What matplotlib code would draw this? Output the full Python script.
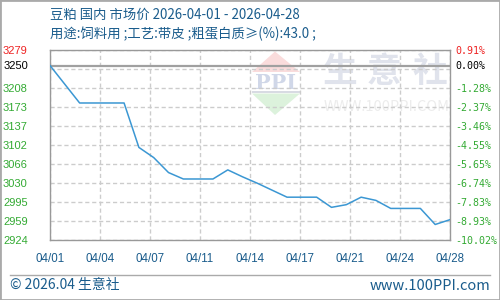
#import libraries
import numpy as np
import matplotlib.pyplot as plt
from matplotlib.patches import Polygon, Rectangle

plt.rcParams['font.family'] = ['Noto Sans CJK SC', 'DejaVu Sans']

#data (daily price, CNY/t)
dates = ['04/01', '04/02', '04/03', '04/04', '04/05', '04/06', '04/07',
         '04/08', '04/09', '04/10', '04/11', '04/12', '04/13', '04/14',
         '04/15', '04/16', '04/17', '04/18', '04/19', '04/20', '04/21',
         '04/22', '04/23', '04/24', '04/25', '04/26', '04/27', '04/28']
prices = [3250, 3215, 3180, 3180, 3180, 3180, 3097,
          3078, 3050, 3038, 3038, 3038, 3055, 3042,
          3030, 3017, 3004, 3004, 3004, 2985, 2990,
          3004, 2998, 2983, 2983, 2983, 2953, 2962]
base_price = 3250

x_labels = ['04/01', '04/04', '04/07', '04/11', '04/14', '04/17', '04/21', '04/24', '04/28']
y_min, y_max = 2924, 3279
left_labels = ['3279', '', '3208', '3173', '3137', '3102', '3066', '3030', '2995', '2959', '2924']
right_labels = ['0.91%', '', '-1.28%', '-2.37%', '-3.46%', '-4.55%', '-5.65%',
                '-6.74%', '-7.83%', '-8.93%', '-10.02%']

title1 = '豆粕 国内 市场价 2026-04-01 - 2026-04-28'
title2 = '用途:饲料用 ;工艺:带皮 ;粗蛋白质≥(%):43.0 ;'

blue_txt = '#1a5c8c'
red = '#ee2222'
green = '#33aa33'
gray = '#999999'

fig = plt.figure(figsize=(5, 3), dpi=100)
ax = fig.add_axes([0.1, 0.2, 0.8, 190 / 300])
ax.patch.set_alpha(0)

#watermark (axes fraction coords)
def fx(px):
    return (px - 50) / 400
def fy(py):
    return (240 - py) / 190

ax.add_patch(Polygon([(fx(275), fy(51.5)), (fx(252), fy(72)), (fx(300), fy(72))],
                     closed=True, transform=ax.transAxes, color='#fadcdc', lw=0, zorder=0))
ax.add_patch(Polygon([(fx(252), fy(93.5)), (fx(300), fy(93.5)), (fx(275), fy(115))],
                     closed=True, transform=ax.transAxes, color='#dcf2dc', lw=0, zorder=0))
ax.add_patch(Rectangle((fx(252), fy(92.5)), 48 / 400, 1.5 / 190, transform=ax.transAxes,
                       color='#d8dbe3', lw=0, zorder=0))
ax.text(fx(276), fy(83), 'PPI', transform=ax.transAxes, ha='center', va='center',
        fontsize=15, fontweight='bold', family='DejaVu Serif', color='#d0d7e8', zorder=0)
for ch, cx in zip('生意社', [340, 384, 430]):
    ax.text(fx(cx), fy(71.5), ch, transform=ax.transAxes, ha='center', va='center',
            fontsize=25, fontweight='bold', color='#e0e3ec', zorder=0)
ax.text(fx(386.5), fy(106.5), 'WWW.100PPI.COM', transform=ax.transAxes, ha='center',
        va='center', fontsize=10.5, color='#ececec', zorder=0)

#grid
days = np.arange(len(dates))
grid_vals = np.linspace(y_min, y_max, 11)[::-1]
x_ticks = np.linspace(0, len(dates) - 1, len(x_labels))
ax.set_xlim(0, len(dates) - 1)
ax.set_ylim(y_min, y_max)
ax.set_xticks(x_ticks)
ax.set_xticklabels(x_labels, fontsize=8.3, color=blue_txt, family='Liberation Sans')
ax.set_yticks(grid_vals)
ax.set_yticklabels(left_labels, fontsize=8, family='Liberation Sans')
ax.tick_params(axis='x', length=0, pad=9)
ax.tick_params(axis='y', length=0, pad=16)
for i, lab in enumerate(ax.get_yticklabels()):
    lab.set_color(red if i == 0 else green)
ax.grid(True, color='#cccccc', linestyle=(0, (3, 2)), linewidth=1)
for s in ax.spines.values():
    s.set_color(gray)
    s.set_linewidth(1)

#base line and price line
ax.axhline(base_price, color='#a0a0a0', linewidth=1.6, zorder=2)
ax.plot(days, prices, color='#3b97d3', linewidth=1.1, zorder=3)
ax.text(-22 / 400, base_price, str(base_price), transform=ax.get_yaxis_transform(),
        ha='right', va='center', fontsize=8, family='Liberation Sans', color='black')

#right axis in percent
ax2 = ax.twinx()
ax2.set_ylim(y_min, y_max)
ax2.set_yticks(grid_vals)
ax2.set_yticklabels(right_labels, fontsize=7.2, family='DejaVu Sans Mono')
ax2.tick_params(axis='y', length=0, pad=4)
for i, lab in enumerate(ax2.get_yticklabels()):
    lab.set_color(red if i == 0 else green)
for s in ax2.spines.values():
    s.set_visible(False)
ax2.text(1 + 5.5 / 400, base_price, '0.00%', transform=ax2.get_yaxis_transform(),
         ha='left', va='center', fontsize=7.2, family='DejaVu Sans Mono', color='black')

#titles and footer
fig.text(50 / 500, 1 - 15 / 300, title1, fontsize=9.6, color=blue_txt, va='center')
fig.text(50 / 500, 1 - 33.5 / 300, title2, fontsize=9.6, color=blue_txt, va='center')
fig.add_artist(plt.Line2D([10 / 500, 490 / 500], [1 - 275 / 300, 1 - 275 / 300],
                          color='#aaaaaa', linewidth=1))
fig.text(10 / 500, 1 - 285.5 / 300, '© 2026.04 生意社', fontsize=10, color=blue_txt, va='center')
fig.text(490 / 500, 1 - 285.5 / 300, 'www.100PPI.com', fontsize=10.5, color=blue_txt,
         va='center', ha='right')
fig.add_artist(Rectangle((0, 0), 1, 1, transform=fig.transFigure, fill=False,
                         edgecolor='#aaaaaa', linewidth=2))

plt.savefig('out.png', dpi=100)
